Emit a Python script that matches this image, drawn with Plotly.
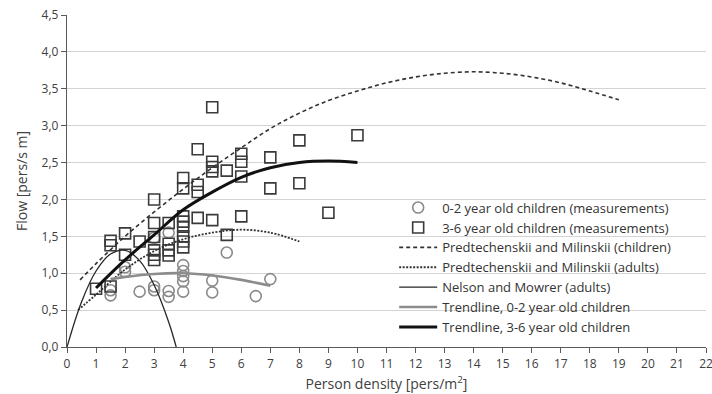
import plotly.graph_objects as go

# Measured flow, 0-2 year old children
kids02_density = [1.5, 1.5, 2, 2, 2.5, 3, 3, 3, 3.5, 3.5, 3.5, 4, 4, 4, 4, 4, 5, 5, 5.5, 6.5, 7]
kids02_flow = [0.70, 0.77, 1.08, 1.02, 0.75, 0.82, 0.77, 1.48, 1.55, 0.76, 0.68,
               1.11, 1.03, 0.96, 0.89, 0.75, 0.90, 0.74, 1.28, 0.69, 0.92]

# Measured flow, 3-6 year old children
kids36_density = [1, 1.5, 1.5, 1.5, 2, 2, 2.5, 3, 3, 3, 3, 3, 3, 3.5, 3.5, 3.5, 3.5,
                  4, 4, 4, 4, 4, 4, 4, 4, 4.5, 4.5, 4.5, 4.5, 5, 5, 5, 5, 5,
                  5.5, 5.5, 6, 6, 6, 6, 7, 7, 8, 8, 9, 10]
kids36_flow = [0.79, 0.82, 1.38, 1.44, 1.25, 1.54, 1.43, 2.00, 1.68, 1.49, 1.31, 1.25, 1.18,
               1.68, 1.40, 1.31, 1.24, 2.29, 2.15, 1.77, 1.70, 1.63, 1.50, 1.43, 1.35,
               2.68, 2.20, 2.10, 1.75, 3.25, 2.51, 2.44, 2.38, 1.72,
               2.39, 1.52, 2.62, 2.51, 2.31, 1.77, 2.57, 2.15, 2.80, 2.22, 1.82, 2.87]

# Predtechenskii and Milinskii, children
pm_child_density = [0.45, 1, 2, 3, 4, 5, 6, 7, 8, 9, 10, 11, 12, 13, 14, 15, 16, 17, 18, 19]
pm_child_flow = [0.91, 1.13, 1.50, 1.83, 2.14, 2.43, 2.70, 2.96, 3.17, 3.34, 3.47, 3.58,
                 3.66, 3.71, 3.73, 3.71, 3.66, 3.58, 3.47, 3.35]

# Predtechenskii and Milinskii, adults
pm_adult_density = [0.38, 1, 2, 3, 4, 5, 6, 7, 8]
pm_adult_flow = [0.50, 0.71, 1.05, 1.30, 1.46, 1.55, 1.59, 1.55, 1.43]

# Nelson and Mowrer, adults
nm_density = [0, 0.5, 1, 1.5, 2, 2.5, 3, 3.5, 3.76]
nm_flow = [0, 0.61, 1.03, 1.26, 1.31, 1.17, 0.84, 0.34, 0]

# Trendlines
trend02_density = [1.5, 2, 3, 4, 5, 6, 7]
trend02_flow = [0.92, 0.95, 0.99, 1.00, 0.97, 0.91, 0.83]
trend36_density = [1, 2, 3, 4, 5, 6, 7, 8, 9, 10]
trend36_flow = [0.80, 1.18, 1.52, 1.86, 2.10, 2.30, 2.43, 2.50, 2.52, 2.50]

FONT = "Open Sans"
TXT = "#404040"

fig = go.Figure()
fig.add_trace(go.Scatter(
    x=kids02_density, y=kids02_flow, mode="markers",
    name="0-2 year old children (measurements)",
    marker=dict(symbol="circle-open", size=11, color="#8a8a8a", line=dict(width=1.6))))
fig.add_trace(go.Scatter(
    x=kids36_density, y=kids36_flow, mode="markers",
    name="3-6 year old children (measurements)",
    marker=dict(symbol="square-open", size=11, color="#3a3a3a", line=dict(width=1.6))))
fig.add_trace(go.Scatter(
    x=pm_child_density, y=pm_child_flow, mode="lines", line_shape="spline",
    name="Predtechenskii and Milinskii (children)",
    line=dict(color="#333333", width=1.6, dash="4px,3px")))
fig.add_trace(go.Scatter(
    x=pm_adult_density, y=pm_adult_flow, mode="lines", line_shape="spline",
    name="Predtechenskii and Milinskii (adults)",
    line=dict(color="#333333", width=1.8, dash="2px,1.5px")))
fig.add_trace(go.Scatter(
    x=nm_density, y=nm_flow, mode="lines", line_shape="spline",
    name="Nelson and Mowrer (adults)",
    line=dict(color="#262626", width=1.3)))
fig.add_trace(go.Scatter(
    x=trend02_density, y=trend02_flow, mode="lines", line_shape="spline",
    name="Trendline, 0-2 year old children",
    line=dict(color="#8c8c8c", width=2.6)))
fig.add_trace(go.Scatter(
    x=trend36_density, y=trend36_flow, mode="lines", line_shape="spline",
    name="Trendline, 3-6 year old children",
    line=dict(color="#111111", width=3)))

fig.update_layout(
    width=712, height=394,
    margin=dict(l=67, r=6, t=15, b=47, autoexpand=False),
    paper_bgcolor="white", plot_bgcolor="white",
    separators=",.",
    font=dict(family=FONT, size=12, color=TXT),
    showlegend=True,
    legend=dict(
        x=0.512, xanchor="left", y=0.465, yanchor="top",
        bgcolor="rgba(0,0,0,0)", borderwidth=0,
        font=dict(family=FONT, size=13, color="#333333"),
        tracegroupgap=0, itemwidth=38,
    ),
    # white panel behind the legend, hiding the gridlines there
    shapes=[dict(type="rect", xref="paper", yref="paper", layer="below",
                 x0=0.487, x1=1.0, y0=0.03, y1=0.47,
                 fillcolor="white", line=dict(width=0))],
)
fig.update_xaxes(
    range=[0, 22], tickmode="linear", tick0=0, dtick=1,
    showgrid=False, zeroline=False, automargin=False,
    showline=True, linecolor="#595959", linewidth=1.3,
    ticks="outside", ticklen=5, tickcolor="#595959",
    tickfont=dict(size=12, color=TXT), ticklabeloverflow="allow",
    title=dict(text="Person density [pers/m<sup>2</sup>]", font=dict(size=14, color=TXT), standoff=8),
)
fig.update_yaxes(
    range=[0, 4.5], tickmode="linear", tick0=0, dtick=0.5, tickformat=".1f",
    showgrid=True, gridcolor="#d4d4d4", gridwidth=1, zeroline=False, automargin=False,
    showline=True, linecolor="#595959", linewidth=1.3,
    ticks="outside", ticklen=5, tickcolor="#595959",
    tickfont=dict(size=12, color=TXT),
    title=dict(text="Flow [pers/s m]", font=dict(size=14, color=TXT), standoff=10),
)

fig.write_html("out.html")
